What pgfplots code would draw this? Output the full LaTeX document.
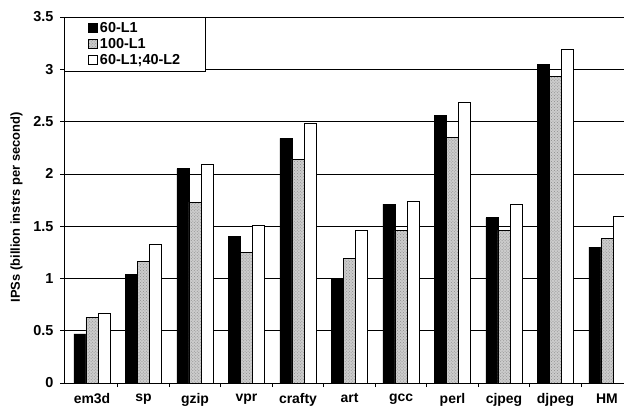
\documentclass[border=0pt]{standalone}
\usepackage{pgfplots}
\pgfplotsset{compat=1.18}
\usepackage{fontspec}
\setmainfont{Liberation Sans}
\usetikzlibrary{patterns}

% IPS per benchmark, three cache configurations
\pgfplotstableread{
x  a    b    c
0  0.47 0.63 0.67
1  1.04 1.16 1.33
2  2.05 1.73 2.09
3  1.40 1.25 1.51
4  2.34 2.14 2.48
5  0.99 1.19 1.46
6  1.71 1.46 1.74
7  2.56 2.35 2.68
8  1.58 1.46 1.71
9  3.05 2.93 3.19
10 1.30 1.38 1.59
}\ipsdata

\begin{document}
\begin{tikzpicture}[x=1bp,y=1bp]
\begin{axis}[
    at={(0,0)}, anchor=south west,
    scale only axis,
    width=560bp, height=366bp,
    xmin=-0.544, xmax=10.33,
    ymin=0, ymax=3.5,
    axis x line*=bottom, axis y line*=left,
    axis line style={black, line width=0.8pt},
    ytick={0,0.5,...,3.5},
    yticklabels={0,0.5,1,1.5,2,2.5,3,3.5},
    ymajorgrids, major grid style={black, line width=0.6pt},
    xtick={0,...,10},
    xticklabels={em3d,sp,gzip,vpr,crafty,art,gcc,perl,cjpeg,djpeg,HM},
    major x tick style={draw=none},
    minor xtick={0.5,1.5,...,9.5},
    minor x tick style={black, line width=0.6pt},
    minor tick length=4bp,
    y tick style={black, line width=0.6pt},
    major tick length=4bp,
    tick align=outside,
    xticklabel style={font=\fontsize{14}{15}\selectfont\bfseries, yshift=-3bp},
    yticklabel style={font=\fontsize{14.5}{15}\selectfont\bfseries, xshift=-3bp},
    /pgf/number format/assume math mode=true,
    ylabel={IPSs (billion instrs per second)},
    ylabel style={font=\fontsize{13}{14}\selectfont\bfseries, at={(axis description cs:0,0.48)}, anchor=south, yshift=38bp},
    legend style={at={(0,1)}, anchor=north west, draw=black, line width=0.6pt,
        font=\fontsize{14.5}{15}\selectfont\bfseries, inner xsep=0bp, inner ysep=3bp,
        row sep=0.5bp, cells={anchor=west}, text width=103bp},
    legend image code/.code={\path (0bp,0bp); \draw[#1, line width=0.6pt] (24bp,-4.5bp) rectangle (33bp,4.5bp);},
]
\addplot[ybar, bar width=0.235, bar shift=-0.235, fill=black, draw=black, line width=0.6pt]
    table[x=x, y=a] {\ipsdata};
\addlegendentry{60-L1}
\addplot[ybar, bar width=0.235, bar shift=0, fill=black!20, draw=black, line width=0.6pt,
    postaction={pattern=crosshatch dots, pattern color=black!45}]
    table[x=x, y=b] {\ipsdata};
\addlegendentry{100-L1}
\addplot[ybar, bar width=0.235, bar shift=0.235, fill=white, draw=black, line width=0.8pt]
    table[x=x, y=c] {\ipsdata};
\addlegendentry{60-L1;40-L2}
\end{axis}
\pgfresetboundingbox
\useasboundingbox (-64,-28) rectangle (560,383);
\end{tikzpicture}
\end{document}
